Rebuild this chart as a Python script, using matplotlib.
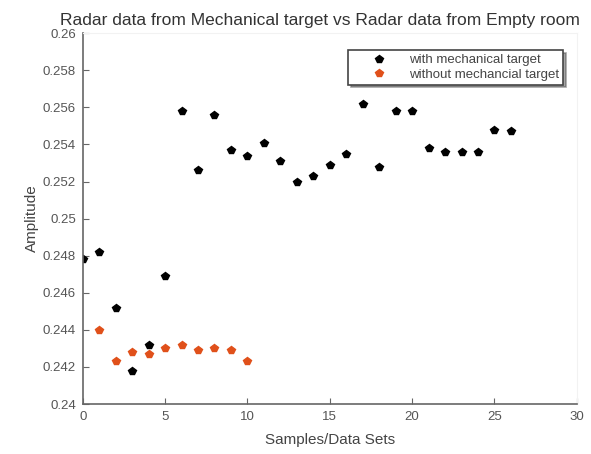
import matplotlib
matplotlib.use('Agg')
import matplotlib.pyplot as plt

plt.rcParams['font.family'] = ['Liberation Sans', 'DejaVu Sans']

# samples and amplitudes
samples_with = list(range(27))
amp_with = [0.2478, 0.2482, 0.2452, 0.2418, 0.2432, 0.2469, 0.2558, 0.2526,
            0.2556, 0.2537, 0.2534, 0.2541, 0.2531, 0.2520, 0.2523, 0.2529,
            0.2535, 0.2562, 0.2528, 0.2558, 0.2558, 0.2538, 0.2536, 0.2536,
            0.2536, 0.2548, 0.2547]
samples_without = list(range(1, 11))
amp_without = [0.2440, 0.2423, 0.2428, 0.2427, 0.2430, 0.2432, 0.2429,
               0.2430, 0.2429, 0.2423]

fig = plt.figure(figsize=(5.91, 4.54), dpi=100)
ax = fig.add_axes([0.140, 0.110, 0.836, 0.817])

ax.plot(samples_with, amp_with, 'p', color='black', markersize=6,
        label='with mechanical target')
ax.plot(samples_without, amp_without, 'p', color='#e0501a', markersize=6,
        label='without mechancial target')

ax.set_xlim(0, 30)
ax.set_ylim(0.24, 0.26)
ax.set_xticks([0, 5, 10, 15, 20, 25, 30])
ax.set_yticks([0.24, 0.242, 0.244, 0.246, 0.248, 0.25, 0.252, 0.254, 0.256, 0.258, 0.26])
ax.set_yticklabels(['0.24', '0.242', '0.244', '0.246', '0.248', '0.25', '0.252',
                    '0.254', '0.256', '0.258', '0.26'])
ax.tick_params(direction='in', labelsize=9.5, labelcolor='#555555', colors='#666666',
               length=4, pad=5)
for s in ['left', 'bottom']:
    ax.spines[s].set_color('#666666')
    ax.spines[s].set_linewidth(1.2)
for s in ['top', 'right']:
    ax.spines[s].set_color('#f2f2f2')

ax.set_title('Radar data from Mechanical target vs Radar data from Empty room',
             fontsize=12.5, color='#333333', pad=6, x=0.48)
ax.set_xlabel('Samples/Data Sets', fontsize=11, color='#444444', labelpad=7)
ax.set_ylabel('Amplitude', fontsize=11, color='#444444', labelpad=3)

leg = ax.legend(loc='upper right', bbox_to_anchor=(0.972, 0.954), borderaxespad=0,
                fontsize=9.5, frameon=True, fancybox=False, shadow=True,
                edgecolor='#444444', handlelength=4, handletextpad=0.3,
                borderpad=0.3, labelspacing=0.15)
leg.get_frame().set_linewidth(1.2)
for t in leg.get_texts():
    t.set_color('#444444')

fig.savefig('out.png', dpi=100)
